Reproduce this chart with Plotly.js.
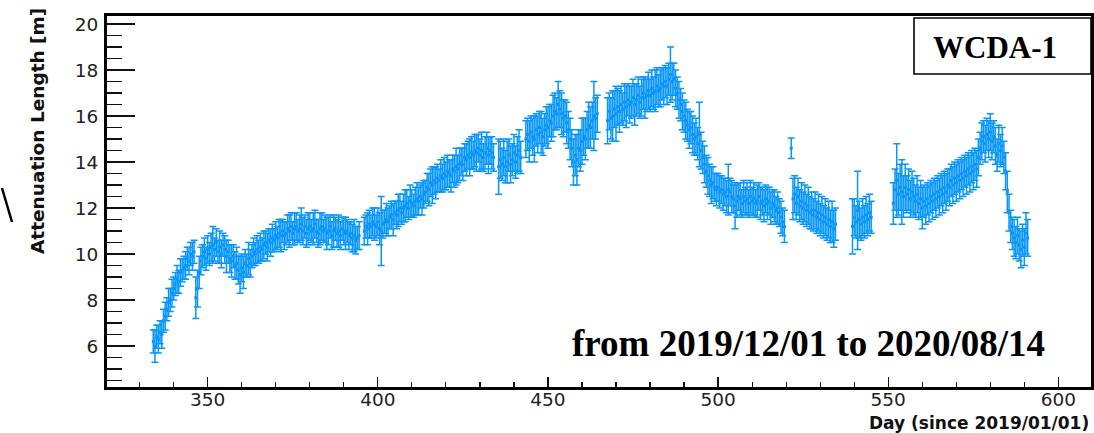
<!DOCTYPE html>
<html>
<head>
<meta charset="utf-8">
<script src="https://cdn.plot.ly/plotly-3.0.1.min.js"></script>
<style>
html,body{margin:0;padding:0;background:#fff;}
#chart{width:1094px;height:433px;}
</style>
</head>
<body>
<div id="chart"></div>
<script>
// Day since 2019/01/01
const day = [
334,334.5,335,335.5,336,336.5,337,337.5,338,338.5,
339,339.5,340,340.5,341,341.5,342,342.5,343,343.5,
344,344.5,345,345.5,346,346.5,347,347.5,348,348.5,
349,349.5,350,350.5,351,351.5,352,352.5,353,353.5,
354,354.5,355,355.5,356,356.5,357,357.5,358,358.5,
359,359.5,360,360.5,361,361.5,362,362.5,363,363.5,
364,364.5,365,365.5,366,366.5,367,367.5,368,368.5,
369,369.5,370,370.5,371,371.5,372,372.5,373,373.5,
374,374.5,375,375.5,376,376.5,377,377.5,378,378.5,
379,379.5,380,380.5,381,381.5,382,382.5,383,383.5,
384,384.5,385,385.5,386,386.5,387,387.5,388,388.5,
389,389.5,390,390.5,391,391.5,392,392.5,393,393.5,
394,394.5,
396,396.5,397,397.5,398,398.5,399,399.5,400,400.5,
401,401.5,402,402.5,403,403.5,404,404.5,405,405.5,
406,406.5,407,407.5,408,408.5,409,409.5,410,410.5,
411,411.5,412,412.5,413,413.5,414,414.5,415,415.5,
416,416.5,417,417.5,418,418.5,419,419.5,420,420.5,
421,421.5,422,422.5,423,423.5,424,424.5,425,425.5,
426,426.5,427,427.5,428,428.5,429,429.5,430,430.5,
431,431.5,432,432.5,433,433.5,434,
435.5,436,436.5,437,437.5,438,438.5,439,439.5,440,440.5,441,441.5,442,
443.5,444,444.5,445,445.5,446,446.5,447,447.5,448,
448.5,449,449.5,450,450.5,451,451.5,452,452.5,453,
453.5,454,454.5,455,455.5,456,456.5,457,457.5,458,
458.5,459,459.5,460,460.5,461,461.5,462,462.5,463,
463.5,464,464.5,
467.5,468,468.5,469,469.5,470,470.5,471,471.5,472,
472.5,473,473.5,474,474.5,475,475.5,476,476.5,477,
477.5,478,478.5,479,479.5,480,480.5,481,481.5,482,
482.5,483,483.5,484,484.5,485,485.5,486,486.5,487,
487.5,488,488.5,489,489.5,490,490.5,491,491.5,492,
492.5,493,493.5,494,494.5,495,495.5,496,496.5,497,
497.5,498,498.5,499,499.5,500,500.5,501,501.5,502,
502.5,503,503.5,504,504.5,505,505.5,506,506.5,507,
507.5,508,508.5,509,509.5,510,510.5,511,511.5,512,
512.5,513,513.5,514,514.5,515,515.5,516,516.5,517,
517.5,518,518.5,519,519.5,
521.5,522,522.5,523,523.5,524,524.5,525,525.5,526,
526.5,527,527.5,528,528.5,529,529.5,530,530.5,531,
531.5,532,532.5,533,533.5,534,534.5,
539.5,540,540.5,541,541.5,542,542.5,543,543.5,544,544.5,545,
551.5,552,552.5,553,553.5,554,554.5,555,555.5,556,
556.5,557,557.5,558,558.5,559,559.5,560,560.5,561,
561.5,562,562.5,563,563.5,564,564.5,565,565.5,566,
566.5,567,567.5,568,568.5,569,569.5,570,570.5,571,
571.5,572,572.5,573,573.5,574,574.5,575,575.5,576,
576.5,577,577.5,578,578.5,579,579.5,580,580.5,581,
581.5,582,582.5,583,583.5,584,584.5,585,585.5,586,
586.5,587,587.5,588,588.5,589,589.5,590,590.5,591
];

// Attenuation length [m]
const atten = [
6.2,6.0,6.4,6.3,6.6,6.5,7.1,7.3,7.6,7.9,
8.0,8.3,8.5,8.7,8.9,8.8,9.2,9.3,9.4,9.5,
9.8,9.7,10.0,9.9,10.1,8.1,8.5,9.2,9.7,9.9,
10.1,9.8,10.2,10.0,10.3,10.4,10.2,10.5,10.1,10.3,
10.0,10.4,10.2,9.9,10.1,9.8,9.7,9.9,9.5,9.6,
9.3,9.1,9.4,9.2,9.6,9.5,9.8,9.6,9.9,10.1,
10.0,10.2,10.1,10.3,10.2,10.4,10.5,10.3,10.6,10.5,
10.7,10.6,10.8,10.7,10.9,10.8,11.0,10.8,10.9,11.1,
11.0,11.2,10.9,11.1,11.2,11.0,11.1,11.3,11.0,11.2,
10.9,11.1,11.2,11.0,11.1,11.3,11.0,10.9,11.1,11.2,
11.0,11.1,10.9,11.0,11.2,10.8,11.0,11.1,10.9,11.0,
10.8,11.1,11.0,10.9,11.0,10.8,10.9,10.7,10.8,10.6,
10.7,10.8,
11.0,11.2,11.1,11.3,11.2,11.4,11.3,11.2,11.4,11.1,
11.0,11.3,11.4,11.5,11.4,11.6,11.7,11.5,11.8,11.7,
11.9,12.0,11.8,12.0,12.1,12.2,12.0,12.3,12.2,12.1,
12.3,12.4,12.3,12.5,12.4,12.6,12.7,12.9,12.8,13.1,
13.0,13.2,13.1,13.3,13.2,13.4,13.3,13.5,13.4,13.6,
13.5,13.4,13.7,13.6,13.8,13.7,13.9,14.0,13.9,14.2,
14.1,14.3,14.2,14.4,14.3,14.5,14.4,14.6,14.3,14.5,
14.2,14.4,14.6,14.3,14.5,14.4,14.2,
13.8,14.1,13.9,14.2,13.8,14.0,14.3,13.9,14.1,14.4,14.0,14.3,14.5,14.2,
15.0,15.2,14.9,15.3,15.1,15.0,15.4,15.2,15.5,15.3,
15.1,15.4,15.6,15.5,15.8,15.7,16.0,16.2,16.1,16.5,
16.3,16.1,15.9,16.0,15.7,15.4,15.0,14.6,14.0,14.3,
14.1,14.6,14.5,14.9,15.1,15.0,15.4,15.6,15.5,15.8,
16.0,15.9,16.1,
15.8,16.2,15.9,16.0,16.3,16.1,16.4,16.2,16.5,16.3,
16.6,16.4,16.7,16.5,16.6,16.8,16.5,16.7,16.9,16.6,
16.8,17.0,16.8,16.9,17.1,16.9,17.2,17.0,17.1,17.3,
17.1,17.2,17.4,17.3,17.5,17.3,17.6,17.8,17.5,17.6,
17.2,17.0,16.7,16.5,16.2,16.0,15.8,15.6,15.4,15.5,
15.2,15.0,15.1,14.8,15.2,14.5,14.2,13.9,13.6,13.4,
13.2,13.0,13.1,12.9,12.8,12.9,12.7,12.8,12.6,12.7,
12.5,12.8,12.7,12.5,12.4,12.1,12.3,12.5,12.4,12.2,
12.5,12.3,12.4,12.2,12.5,12.3,12.4,12.2,12.3,12.5,
12.2,12.3,12.1,12.4,12.2,12.3,12.0,12.2,12.1,11.9,
12.0,11.8,11.6,11.4,11.2,
14.6,12.4,12.6,12.2,12.5,12.1,12.3,12.0,12.2,11.9,
12.1,11.8,11.9,11.7,11.9,11.6,11.8,11.5,11.7,11.4,
11.6,11.3,11.5,11.2,11.4,11.1,11.3,
11.2,11.6,11.4,11.9,11.5,11.3,11.6,11.4,11.7,11.5,11.8,11.6,
12.2,12.8,13.2,12.6,12.9,12.7,12.5,12.9,12.6,12.8,
12.4,12.7,12.5,12.3,12.6,12.2,12.4,12.0,12.3,12.1,
12.4,12.2,12.5,12.3,12.6,12.4,12.7,12.5,12.8,12.6,
12.9,12.7,13.0,12.9,13.2,13.0,13.3,13.1,13.4,13.2,
13.5,13.3,13.6,13.4,13.7,13.5,13.8,13.6,13.9,13.7,
14.2,14.6,14.9,15.1,14.8,15.2,15.0,15.3,14.9,15.1,
14.7,14.3,14.8,14.5,14.7,14.2,13.6,12.7,11.8,11.2,
10.9,10.7,10.5,10.8,10.4,10.2,10.6,10.3,10.9,10.7
];

// Uncertainty [m]
const attenErr = [
0.5,0.7,0.5,0.6,0.5,0.6,0.5,0.6,0.5,0.6,
0.5,0.6,0.5,0.5,0.6,0.5,0.6,0.5,0.5,0.6,
0.5,0.6,0.5,0.6,0.5,0.9,0.8,0.7,0.6,0.5,
0.6,0.5,0.6,0.5,0.6,0.8,0.5,0.6,0.5,0.7,
0.6,0.5,0.6,0.7,0.5,0.6,0.7,0.5,0.6,0.7,
0.6,0.8,0.6,0.7,0.6,0.5,0.7,0.6,0.5,0.6,
0.5,0.6,0.5,0.6,0.5,0.6,0.5,0.6,0.5,0.6,
0.6,0.5,0.6,0.5,0.6,0.7,0.5,0.6,0.5,0.6,
0.7,0.6,0.5,0.7,0.6,0.5,0.6,0.7,0.6,0.5,
0.6,0.7,0.6,0.5,0.7,0.6,0.5,0.6,0.7,0.6,
0.5,0.6,0.7,0.6,0.5,0.6,0.7,0.5,0.6,0.7,
0.6,0.5,0.6,0.7,0.5,0.6,0.5,0.6,0.7,0.6,
0.5,0.6,
0.6,0.5,0.7,0.6,0.5,0.6,0.7,0.5,0.6,0.7,
1.5,0.6,0.5,0.7,0.6,0.5,0.6,0.7,0.5,0.6,
0.7,0.6,0.5,0.6,0.7,0.6,0.5,0.7,0.6,0.5,
0.6,0.7,0.6,0.5,0.7,0.6,0.5,0.6,0.7,0.6,
0.8,0.6,0.7,0.6,0.5,0.7,0.6,0.7,0.6,0.7,
0.6,0.7,0.6,0.7,0.8,0.6,0.7,0.6,0.7,0.6,
0.7,0.6,0.8,0.7,0.6,0.7,0.8,0.6,0.7,0.8,
0.6,0.7,0.7,0.8,0.6,0.7,0.6,
1.2,0.8,0.7,0.8,0.7,0.9,0.7,0.8,0.7,0.8,0.7,0.8,0.9,0.7,
0.8,0.7,0.9,0.7,0.8,1.0,0.7,0.8,0.7,0.9,
0.8,0.7,0.8,0.9,0.7,0.8,0.9,0.8,0.7,1.0,
0.8,0.9,0.8,0.7,0.9,0.8,0.9,0.8,1.0,0.9,
1.1,0.8,0.9,1.0,0.8,0.9,0.8,1.0,0.9,0.8,
1.5,0.9,0.8,
1.0,0.8,0.9,1.1,0.8,1.2,0.8,0.9,0.8,0.7,
0.8,0.9,0.7,0.8,0.7,0.8,0.9,0.7,0.8,0.7,
0.8,0.7,0.9,0.7,0.8,0.7,0.8,0.7,0.9,0.8,
0.7,0.8,0.7,0.8,0.7,0.8,0.7,1.2,0.8,0.7,
0.8,0.7,0.8,0.7,0.8,0.7,0.8,0.7,0.8,0.7,
0.8,0.7,0.8,0.7,1.4,0.8,0.7,0.8,0.7,0.8,
0.7,0.8,0.7,0.6,0.7,0.6,0.7,0.6,0.7,0.6,
0.7,1.1,0.6,0.7,0.6,1.0,0.7,0.6,0.7,0.6,
0.7,0.6,0.7,0.6,0.7,0.6,0.7,0.6,0.7,0.6,
0.7,0.6,0.7,0.6,0.7,0.6,0.7,0.6,0.7,0.6,
0.7,0.6,0.7,0.6,0.7,
0.45,0.9,0.8,0.7,0.8,0.7,0.8,0.7,0.8,0.7,
0.8,0.7,0.8,0.7,0.8,0.7,0.8,0.7,0.8,0.7,
0.8,0.7,0.8,0.7,0.9,0.8,0.7,
1.2,0.8,0.7,1.7,0.8,0.7,0.8,0.7,0.8,0.7,0.8,0.7,
0.9,0.9,1.6,0.9,1.0,1.4,0.9,1.0,0.8,0.9,
0.8,0.9,0.8,0.7,0.8,0.7,0.8,0.9,0.7,0.8,
0.7,0.8,0.7,0.8,0.7,0.8,0.7,0.8,0.7,0.8,
0.7,0.8,0.7,0.8,0.7,0.8,0.7,0.8,0.7,0.8,
0.7,0.8,0.7,0.8,0.7,0.8,0.7,0.8,0.7,0.8,
0.8,0.7,0.8,0.7,0.8,0.7,0.8,0.8,0.8,0.7,
0.8,0.7,0.8,0.7,0.8,0.7,0.8,0.9,0.8,0.7,
0.7,0.8,0.7,0.8,0.7,0.8,0.7,0.8,0.9,0.8
];

const xTitle = "Day (since 2019/01/01)";
const yTitle = "Attenuation Length [m]";
const tagText = "WCDA-1";
const periodText = "from 2019/12/01 to 2020/08/14";

const W = 1094, H = 433;
const M = {l: 107, r: 3, t: 16, b: 46};
const pw = W - M.l - M.r, ph = H - M.t - M.b;
const px = v => (v - M.l) / pw;      // pixel -> paper x
const py = v => (H - M.b - v) / ph;  // pixel -> paper y

const blue = '#0996fb';

const trace = {
  type: 'scatter',
  mode: 'markers',
  x: day,
  y: atten,
  marker: {color: blue, size: 3, symbol: 'square'},
  error_y: {type: 'data', array: attenErr, visible: true, color: blue, thickness: 1.5, width: 3.5},
  hoverinfo: 'skip'
};

const tickFont = {family: 'DejaVu Sans', size: 18.5, color: '#222'};

const layout = {
  width: W, height: H,
  margin: M,
  paper_bgcolor: '#fff',
  plot_bgcolor: '#fff',
  showlegend: false,
  xaxis: {
    range: [320.4, 609.6],
    tick0: 0, dtick: 50,
    ticks: 'inside', ticklen: 10, tickwidth: 1.2, tickcolor: '#111',
    minor: {dtick: 10, ticks: 'inside', ticklen: 5, tickwidth: 1.2, tickcolor: '#111'},
    showline: true, linewidth: 3, linecolor: '#000', mirror: true,
    showgrid: false, zeroline: false,
    tickfont: tickFont,
    ticklabelstandoff: -6
  },
  yaxis: {
    range: [4.22, 20.35],
    tick0: 0, dtick: 2,
    ticks: 'inside', ticklen: 28, tickwidth: 1.2, tickcolor: '#111',
    minor: {dtick: 0.5, ticks: 'inside', ticklen: 15, tickwidth: 1.2, tickcolor: '#111'},
    showline: true, linewidth: 3, linecolor: '#000', mirror: true,
    showgrid: false, zeroline: false,
    tickfont: tickFont,
    ticklabelstandoff: 2
  },
  shapes: [
    {type: 'rect', xref: 'paper', yref: 'paper',
     x0: px(914), x1: 1, y0: py(74), y1: py(18),
     line: {color: '#000', width: 1.6}, fillcolor: '#fff', layer: 'above'},
    {type: 'line', xref: 'paper', yref: 'paper',
     x0: px(2), y0: py(188), x1: px(12), y1: py(222),
     line: {color: '#000', width: 2.5}}
  ],
  annotations: [
    {xref: 'paper', yref: 'paper', x: px(995), y: py(47), xanchor: 'center', yanchor: 'middle',
     text: tagText, showarrow: false,
     font: {family: 'Liberation Serif', size: 31, color: '#000', weight: 'bold'}},
    {xref: 'paper', yref: 'paper', x: px(808), y: py(343), xanchor: 'center', yanchor: 'middle',
     text: periodText, showarrow: false,
     font: {family: 'Liberation Serif', size: 37, color: '#000', weight: 'bold'}},
    {xref: 'paper', yref: 'paper', x: px(1091), y: py(423), xanchor: 'right', yanchor: 'middle',
     text: xTitle, showarrow: false,
     font: {family: 'DejaVu Sans', size: 17, color: '#111', weight: 'bold'}},
    {xref: 'paper', yref: 'paper', x: px(37), y: py(131), xanchor: 'center', yanchor: 'middle',
     text: yTitle, showarrow: false, textangle: -90,
     font: {family: 'DejaVu Sans', size: 18.5, color: '#111', weight: 'bold'}}
  ]
};

Plotly.newPlot('chart', [trace], layout, {staticPlot: true, displayModeBar: false});
</script>
</body>
</html>
